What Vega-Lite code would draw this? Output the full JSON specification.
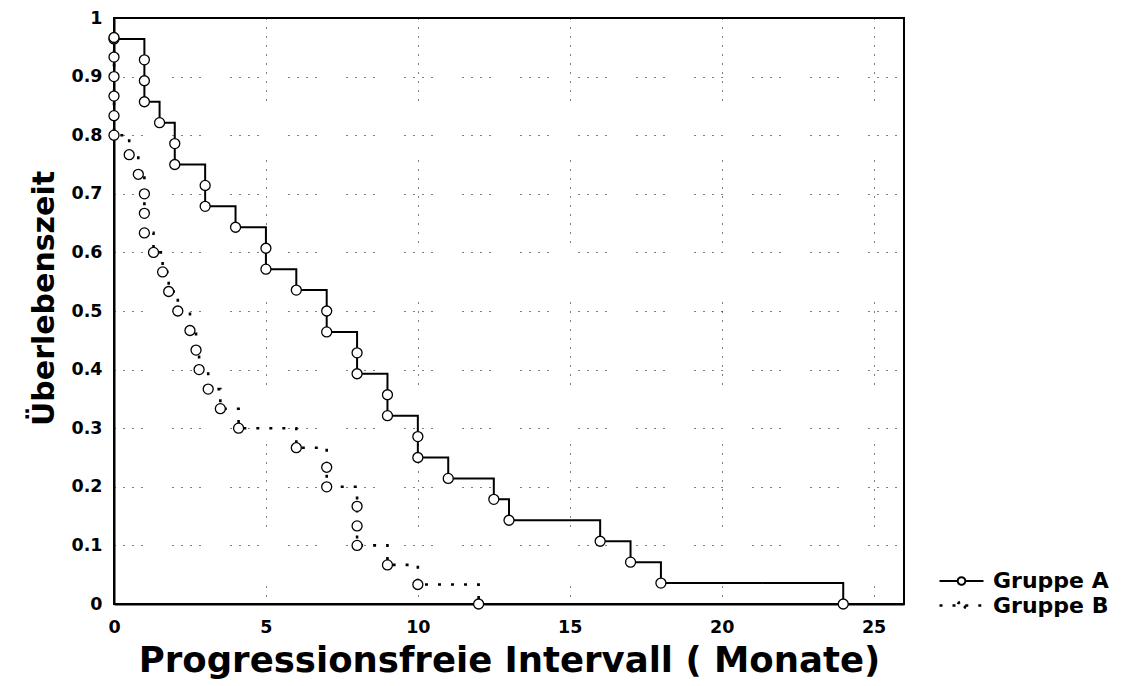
{
  "$schema": "https://vega.github.io/schema/vega-lite/v6.json",
  "width": 790,
  "height": 586,
  "autosize": {"type": "none"},
  "padding": {"left": 114, "top": 18, "right": 224, "bottom": 82},
  "background": "white",
  "config": {
    "font": "DejaVu Sans",
    "view": {"stroke": "black", "strokeWidth": 2},
    "axis": {
      "domainColor": "black", "domainWidth": 2, "ticks": false, "labelFlush": false,
      "labelFont": "DejaVu Sans", "labelFontWeight": "bold", "labelColor": "black",
      "titleFont": "DejaVu Sans", "titleFontWeight": "bold", "titleColor": "black",
      "gridColor": "black", "gridWidth": 1, "gridOpacity": 1
    },
    "legend": {"padding": 0}
  },
  "data": {"values": [
    {"gruppe": "Gruppe A", "zeit": 0, "surv": 0.9643},
    {"gruppe": "Gruppe A", "zeit": 1, "surv": 0.9286},
    {"gruppe": "Gruppe A", "zeit": 1, "surv": 0.8929},
    {"gruppe": "Gruppe A", "zeit": 1, "surv": 0.8571},
    {"gruppe": "Gruppe A", "zeit": 1.5, "surv": 0.8214},
    {"gruppe": "Gruppe A", "zeit": 2, "surv": 0.7857},
    {"gruppe": "Gruppe A", "zeit": 2, "surv": 0.75},
    {"gruppe": "Gruppe A", "zeit": 3, "surv": 0.7143},
    {"gruppe": "Gruppe A", "zeit": 3, "surv": 0.6786},
    {"gruppe": "Gruppe A", "zeit": 4, "surv": 0.6429},
    {"gruppe": "Gruppe A", "zeit": 5, "surv": 0.6071},
    {"gruppe": "Gruppe A", "zeit": 5, "surv": 0.5714},
    {"gruppe": "Gruppe A", "zeit": 6, "surv": 0.5357},
    {"gruppe": "Gruppe A", "zeit": 7, "surv": 0.5},
    {"gruppe": "Gruppe A", "zeit": 7, "surv": 0.4643},
    {"gruppe": "Gruppe A", "zeit": 8, "surv": 0.4286},
    {"gruppe": "Gruppe A", "zeit": 8, "surv": 0.3929},
    {"gruppe": "Gruppe A", "zeit": 9, "surv": 0.3571},
    {"gruppe": "Gruppe A", "zeit": 9, "surv": 0.3214},
    {"gruppe": "Gruppe A", "zeit": 10, "surv": 0.2857},
    {"gruppe": "Gruppe A", "zeit": 10, "surv": 0.25},
    {"gruppe": "Gruppe A", "zeit": 11, "surv": 0.2143},
    {"gruppe": "Gruppe A", "zeit": 12.5, "surv": 0.1786},
    {"gruppe": "Gruppe A", "zeit": 13, "surv": 0.1429},
    {"gruppe": "Gruppe A", "zeit": 16, "surv": 0.1071},
    {"gruppe": "Gruppe A", "zeit": 17, "surv": 0.0714},
    {"gruppe": "Gruppe A", "zeit": 18, "surv": 0.0357},
    {"gruppe": "Gruppe A", "zeit": 24, "surv": 0},
    {"gruppe": "Gruppe B", "zeit": 0, "surv": 0.9667},
    {"gruppe": "Gruppe B", "zeit": 0, "surv": 0.9333},
    {"gruppe": "Gruppe B", "zeit": 0, "surv": 0.9},
    {"gruppe": "Gruppe B", "zeit": 0, "surv": 0.8667},
    {"gruppe": "Gruppe B", "zeit": 0, "surv": 0.8333},
    {"gruppe": "Gruppe B", "zeit": 0, "surv": 0.8},
    {"gruppe": "Gruppe B", "zeit": 0.5, "surv": 0.7667},
    {"gruppe": "Gruppe B", "zeit": 0.8, "surv": 0.7333},
    {"gruppe": "Gruppe B", "zeit": 1, "surv": 0.7},
    {"gruppe": "Gruppe B", "zeit": 1, "surv": 0.6667},
    {"gruppe": "Gruppe B", "zeit": 1, "surv": 0.6333},
    {"gruppe": "Gruppe B", "zeit": 1.3, "surv": 0.6},
    {"gruppe": "Gruppe B", "zeit": 1.6, "surv": 0.5667},
    {"gruppe": "Gruppe B", "zeit": 1.8, "surv": 0.5333},
    {"gruppe": "Gruppe B", "zeit": 2.1, "surv": 0.5},
    {"gruppe": "Gruppe B", "zeit": 2.5, "surv": 0.4667},
    {"gruppe": "Gruppe B", "zeit": 2.7, "surv": 0.4333},
    {"gruppe": "Gruppe B", "zeit": 2.8, "surv": 0.4},
    {"gruppe": "Gruppe B", "zeit": 3.1, "surv": 0.3667},
    {"gruppe": "Gruppe B", "zeit": 3.5, "surv": 0.3333},
    {"gruppe": "Gruppe B", "zeit": 4.1, "surv": 0.3},
    {"gruppe": "Gruppe B", "zeit": 6, "surv": 0.2667},
    {"gruppe": "Gruppe B", "zeit": 7, "surv": 0.2333},
    {"gruppe": "Gruppe B", "zeit": 7, "surv": 0.2},
    {"gruppe": "Gruppe B", "zeit": 8, "surv": 0.1667},
    {"gruppe": "Gruppe B", "zeit": 8, "surv": 0.1333},
    {"gruppe": "Gruppe B", "zeit": 8, "surv": 0.1},
    {"gruppe": "Gruppe B", "zeit": 9, "surv": 0.0667},
    {"gruppe": "Gruppe B", "zeit": 10, "surv": 0.0333},
    {"gruppe": "Gruppe B", "zeit": 12, "surv": 0}
  ]},
  "encoding": {
    "x": {
      "field": "zeit", "type": "quantitative",
      "scale": {"domain": [0, 26], "nice": false, "zero": false},
      "axis": {
        "title": "Progressionsfreie Intervall ( Monate)",
        "values": [0, 5, 10, 15, 20, 25],
        "labelPadding": 14, "labelFontSize": 17.5,
        "titleFontSize": 35.5, "titleBaseline": "alphabetic", "titleY": 67,
        "gridDash": [1, 8, 1, 8, 1, 8, 1, 8, 1, 8, 1, 8, 1, 8, 1, 8, 1, 8, 1, 60]
      }
    },
    "y": {
      "field": "surv", "type": "quantitative",
      "scale": {"domain": [0, 1], "nice": false},
      "axis": {
        "title": "Überlebenszeit",
        "values": [0, 0.1, 0.2, 0.3, 0.4, 0.5, 0.6, 0.7, 0.8, 0.9, 1],
        "format": "~g",
        "labelPadding": 12, "labelFontSize": 17.5,
        "titleFontSize": 30, "titleBaseline": "alphabetic", "titleX": -61, "titleY": 280,
        "gridDash": [1, 8, 1, 8, 1, 8, 1, 30]
      }
    }
  },
  "layer": [
    {
      "mark": {"type": "line", "interpolate": "step-after", "color": "black"},
      "encoding": {
        "order": {"field": "surv", "sort": "descending"},
        "strokeWidth": {
          "field": "gruppe", "type": "nominal",
          "scale": {"domain": ["Gruppe A", "Gruppe B"], "range": [2, 2.6]},
          "legend": null
        },
        "strokeDash": {
          "field": "gruppe", "type": "nominal",
          "scale": {"domain": ["Gruppe A", "Gruppe B"], "range": [[1, 0], [3, 10]]},
          "legend": {
            "title": null, "orient": "none", "legendX": 836, "legendY": 552,
            "symbolType": "M-2.2,0L-0.38,0M0.38,0L2.2,0M0.38,0A0.38,0.38,0,1,1,-0.38,0A0.38,0.38,0,1,1,0.38,0Z",
            "symbolSize": 400, "symbolStrokeColor": "black", "symbolFillColor": "white", "symbolStrokeWidth": 1.5,
            "labelFont": "DejaVu Sans", "labelFontWeight": "bold", "labelFontSize": 22, "labelColor": "black",
            "labelOffset": 20, "rowPadding": 2
          }
        }
      }
    },
    {
      "mark": {"type": "point", "shape": "circle", "filled": false, "fill": "white", "stroke": "black", "strokeWidth": 1.3, "size": 100, "opacity": 1, "fillOpacity": 1}
    }
  ]
}
